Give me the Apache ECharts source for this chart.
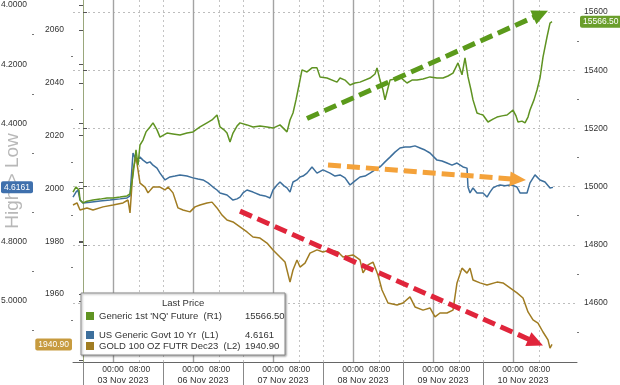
<!DOCTYPE html>
<html><head><meta charset="utf-8">
<script src="https://cdn.jsdelivr.net/npm/echarts@6/dist/echarts.min.js"></script>
<style>html,body{margin:0;padding:0;background:#fff}#c{width:620px;height:385px}</style>
</head><body><div id="c"></div>
<script>
// time is in hours from the start of the 03 Nov session (sessions skip the weekend)
const nqSeries = [[-3,14981],[-2.1,14999],[-1.2,14988],[-0.9,14954],[0,14944],[1.2,14950],[3,14954],[5.1,14957],[7.2,14961],[9,14961],[11.1,14964],[13.2,14968],[14.1,14975],[15,15040],[15.9,15126],[16.5,15074],[17.1,15143],[18,15160],[18.9,15188],[20.1,15205],[21,15219],[22.2,15195],[23.1,15170],[25.2,15184],[27,15181],[29.1,15177],[31.2,15184],[33,15188],[35.1,15205],[37.2,15219],[38.7,15229],[40.2,15246],[41.1,15205],[42.3,15195],[43.2,15184],[44.1,15153],[45,15184],[46.2,15208],[47.1,15219],[49.2,15212],[51,15205],[53.1,15208],[55.2,15205],[57,15201],[59.1,15212],[61.2,15188],[62.1,15229],[63,15253],[63.9,15298],[64.5,15332],[65.1,15366],[65.7,15401],[67.2,15394],[68.7,15408],[70.2,15408],[71.1,15377],[73.2,15373],[76.2,15359],[77.1,15373],[78.6,15366],[80.1,15349],[81.6,15356],[83.1,15359],[86.1,15373],[87.6,15387],[88.2,15408],[89.1,15366],[90,15332],[90.6,15298],[91.5,15339],[92.1,15366],[93.6,15370],[95.1,15377],[97.2,15356],[98.7,15366],[100.2,15366],[102,15370],[104.1,15377],[106.2,15373],[108,15373],[109.5,15380],[111,15390],[112.5,15425],[113.7,15384],[114.6,15442],[115.5,15377],[116.4,15332],[117,15298],[118.2,15253],[119.1,15249],[120,15246],[121.5,15222],[123,15232],[124.2,15239],[125.7,15243],[127.2,15246],[129,15263],[129.9,15243],[130.5,15222],[131.7,15225],[132.6,15219],[133.5,15239],[134.1,15263],[135.3,15298],[136.2,15332],[137.1,15373],[138,15445],[139.2,15514],[140.1,15562],[140.7,15566.5]];
const yieldSeries = [[-3,4.649],[-2.1,4.632],[-1.5,4.625],[-0.9,4.659],[0,4.669],[2.1,4.666],[5.1,4.662],[8.1,4.659],[11.1,4.655],[13.2,4.652],[14.1,4.645],[15,4.500],[15.9,4.524],[17.1,4.514],[18,4.524],[19.2,4.534],[20.1,4.530],[21,4.541],[22.2,4.551],[23.1,4.568],[24.6,4.591],[26.1,4.581],[27.6,4.578],[29.1,4.574],[31.2,4.578],[33,4.584],[34.5,4.588],[36,4.591],[37.5,4.601],[39,4.615],[40.2,4.625],[41.1,4.635],[43.2,4.642],[45,4.659],[46.2,4.655],[47.1,4.649],[48,4.635],[49.2,4.625],[51,4.632],[53.1,4.642],[54.6,4.645],[56.1,4.652],[57,4.625],[58.2,4.608],[59.1,4.598],[60.3,4.611],[61.2,4.618],[62.1,4.632],[63,4.598],[64.2,4.591],[65.1,4.581],[66,4.578],[67.2,4.568],[68.7,4.547],[70.2,4.568],[72,4.557],[74.1,4.568],[75.6,4.578],[77.1,4.574],[78.6,4.584],[80.1,4.608],[81.6,4.594],[83.1,4.581],[84.6,4.578],[86.1,4.568],[87.6,4.557],[89.1,4.547],[90.6,4.530],[92.1,4.514],[93.6,4.497],[95.1,4.483],[96.6,4.480],[98.1,4.480],[99.6,4.476],[101.1,4.483],[102.6,4.490],[104.1,4.500],[106.2,4.524],[107.7,4.527],[109.2,4.534],[110.7,4.541],[112.2,4.534],[114,4.547],[115.2,4.551],[115.5,4.615],[116.1,4.635],[117,4.618],[118.2,4.635],[120,4.635],[121.2,4.649],[122.1,4.632],[123,4.618],[124.2,4.611],[125.1,4.608],[126.6,4.611],[128.1,4.608],[129.3,4.611],[130.2,4.615],[131.1,4.635],[132,4.635],[133.2,4.635],[134.1,4.601],[135.6,4.574],[137.1,4.591],[138.6,4.598],[140.1,4.618],[141,4.6161]];
const goldSeries = [[-3,1993.7],[-1.8,1994.5],[-0.9,1991.8],[1.2,1992.6],[3,1991.8],[6,1993.0],[9,1993.7],[12,1994.5],[13.5,1995.6],[14.1,1990.7],[15,2007.0],[15.9,2011.9],[16.5,2007.0],[17.1,2002.0],[18.6,2000.5],[19.5,1998.3],[21,2000.5],[23.1,2000.5],[24.6,1999.4],[25.5,2000.5],[27,1998.3],[28.5,1992.6],[30,1991.8],[32.1,1991.1],[33.6,1993.0],[35.1,1993.7],[37.2,1994.5],[38.7,1994.8],[40.2,1992.6],[41.7,1989.9],[43.2,1988.0],[45,1987.3],[47.1,1985.4],[49.2,1983.5],[51,1981.6],[53.1,1981.2],[55.2,1979.3],[57,1976.7],[59.1,1974.0],[60.6,1972.1],[62.1,1964.5],[63,1969.1],[64.2,1972.9],[65.1,1970.2],[66.6,1971.7],[68.1,1975.5],[70.2,1976.7],[72,1975.9],[74.1,1976.7],[76.5,1975.9],[78,1974.0],[81,1974.8],[83.1,1972.9],[84,1968.0],[85.5,1971.0],[87,1972.1],[88.5,1967.2],[89.7,1961.5],[91.5,1956.6],[94.2,1955.8],[96,1956.6],[98.1,1958.9],[99.6,1955.1],[102,1953.9],[104.1,1954.7],[105.6,1951.3],[107.1,1952.8],[109.2,1952.8],[111,1953.9],[112.2,1964.2],[113.7,1969.8],[115.2,1967.9],[116.1,1969.8],[117,1965.3],[119.1,1964.2],[121.2,1963.4],[124.2,1964.5],[126,1964.2],[128.1,1962.3],[130.2,1960.4],[132,1958.5],[133.5,1953.2],[135,1950.2],[136.5,1949.0],[138,1945.6],[139.5,1942.6],[140.1,1939.5],[140.7,1940.9]];

const nqName = "Generic 1st 'NQ' Future";
const yieldName = 'US Generic Govt 10 Yr';
const goldName = 'GOLD 100 OZ FUTR Dec23';
const lastNQ = 15566.50, lastYield = 4.6161, lastGold = 1940.90;

const dayLabels = ['03 Nov 2023','06 Nov 2023','07 Nov 2023','08 Nov 2023','09 Nov 2023','10 Nov 2023'];
const dayStartHours = [0,24,48,72,96,120];
const dayCenterHours = [12,36,60,84,108,132];
const midnightHours = [9,33,57,81,105,129];
const eightHours = [17,41,65,89,113,137];

const nqTicks = [14600,14800,15000,15200,15400,15600];
const nqMinor = [14500,14700,14900,15100,15300,15500];
const yieldTicks = [4.0,4.2,4.4,4.8,5.0]; // 4.6 label is covered by the last-price tag
const yieldTickMarks = [4.0,4.2,4.4,4.6,4.8,5.0,5.2];
const yieldMinor = [4.1,4.3,4.5,4.7,4.9,5.1];
const goldTicks = [1960,1980,2000,2020,2040,2060];
const goldMinor = [1950,1970,1990,2010,2030,2050];

// trend arrows (start, end) in data units
const nqTrend = [[67.2,15234],[137.3,15593]];
const yieldTrend = [[73.5,4.5405],[130.5,4.5895]];
const goldTrend = [[47.1,1991.4],[135.8,1941.7]];

const xMin = -3, xMax = 148.2;
const nqMin = 14397.3, nqMax = 15641.2;
const yieldMin = 3.9831, yieldMax = 5.2061;
const goldMin = 1934.24, goldMax = 2071.36;

const FONT = 'Liberation Sans';
const TXT = '#333';
const C_NQ = '#5f9322', C_Y = '#3d6f9c', C_G = '#a07c22';

function yAx(g, extra) {
  return Object.assign({
    type: 'value', min: g.min, max: g.max, position: g.pos, offset: g.off, inverse: !!g.inv,
    splitLine: {show: false}, axisLine: {show: false}, axisTick: {show: false}, axisLabel: {show: false}
  }, extra);
}
const gY = {min: yieldMin, max: yieldMax, pos: 'left', off: 39, inv: true};
const gG = {min: goldMin, max: goldMax, pos: 'left', off: 0};
const gN = {min: nqMin, max: nqMax, pos: 'right', off: 0};
const lab = (o) => Object.assign({show: true, fontSize: 8.5, color: TXT, fontFamily: FONT}, o);
const tag = (vals, fmt, bg, margin) => ({axisLabel: lab({customValues: vals, formatter: fmt, backgroundColor: bg, color: '#fff', padding: [2, 3, 1, 3], borderRadius: 2, margin: margin})});

const yAxes = [
  yAx(gY, {axisLine: {show: true, lineStyle: {color: '#8fa2b6'}}, axisTick: {show: true, length: 4, customValues: yieldTickMarks, lineStyle: {color: '#555'}},
    axisLabel: lab({customValues: yieldTicks, formatter: v => v.toFixed(4), margin: 7}),
    name: 'High > Low', nameLocation: 'middle', nameGap: 12, nameRotate: 90, nameMoveOverlap: false,
    nameTextStyle: {fontSize: 19, color: '#b8b8b8', fontFamily: FONT}}),
  yAx(gG, {axisLine: {show: true, lineStyle: {color: '#bba566'}}, axisTick: {show: true, length: 4, customValues: goldTicks, lineStyle: {color: '#555'}},
    axisLabel: lab({customValues: goldTicks, formatter: v => String(v), margin: 9})}),
  yAx(gN, {axisLine: {show: true, lineStyle: {color: '#9aa77c'}}, axisTick: {show: true, length: 4, customValues: nqTicks, lineStyle: {color: '#555'}},
    axisLabel: lab({customValues: nqTicks, formatter: v => String(v), margin: 7}),
    splitLine: {show: true, lineStyle: {type: [2, 3], color: '#bdbdbd'}}}),
  yAx(gY, {axisTick: {show: true, length: 2, customValues: yieldMinor, lineStyle: {color: '#777'}}}),
  yAx(gG, {axisTick: {show: true, length: 2, customValues: goldMinor, lineStyle: {color: '#777'}}}),
  yAx(gN, {axisTick: {show: true, length: 2, customValues: nqMinor, lineStyle: {color: '#777'}}}),
  yAx(gY, tag([lastYield], v => v.toFixed(4), '#3f70ad', 1)),
  yAx(gG, tag([lastGold], v => v.toFixed(2), '#c79b3f', 1)),
  yAx(gN, tag([lastNQ], v => v.toFixed(2), '#6a9e2b', 3))
];

function xAx(extra) {
  return Object.assign({type: 'value', min: xMin, max: xMax, position: 'bottom',
    axisLine: {show: false}, axisTick: {show: false}, axisLabel: {show: false}, splitLine: {show: false}}, extra);
}
const xAxes = [
  xAx({axisLine: {show: true, lineStyle: {color: '#666'}},
    axisTick: {show: true, customValues: dayStartHours, length: 23, lineStyle: {color: '#888'}},
    axisLabel: lab({customValues: midnightHours.concat(eightHours).sort((a, b) => a - b),
      formatter: v => (midnightHours.indexOf(v) >= 0 ? '00:00' : '08:00'), margin: 3}),
    splitLine: {show: true, lineStyle: {type: [2, 3], color: '#c4c4c4'}}}),
  xAx({axisTick: {show: false, customValues: midnightHours},
    splitLine: {show: true, lineStyle: {color: '#a3a3a3', width: 1.4}},
    axisLabel: lab({customValues: dayCenterHours, formatter: v => dayLabels[dayCenterHours.indexOf(v)], margin: 14, fontSize: 9})}),
  xAx({axisTick: {show: false, customValues: eightHours},
    splitLine: {show: true, lineStyle: {type: [2, 3], color: '#c4c4c4'}}})
];

function arrow(pts, color) {
  return {silent: true, animation: false, symbol: ['none', 'triangle'], symbolSize: [15, 16],
    label: {show: false}, lineStyle: {color: color, width: 5, type: [13, 6], opacity: 1},
    itemStyle: {color: color}, emphasis: {disabled: true},
    data: [[{coord: pts[0]}, {coord: pts[1]}]]};
}

const legendInfo = {};
legendInfo[nqName] = ['(R1)', lastNQ.toFixed(2)];
legendInfo[yieldName] = ['(L1)', lastYield.toFixed(4)];
legendInfo[goldName] = ['(L2)', lastGold.toFixed(2)];
const legendBase = {orient: 'vertical', left: 86, padding: 0, itemGap: 0, itemWidth: 8, itemHeight: 8, icon: 'rect',
  selectedMode: false, z: 12,
  formatter: n => '{n|' + n + '  ' + legendInfo[n][0] + '}{v|' + legendInfo[n][1] + '}',
  textStyle: {color: TXT, fontFamily: FONT, fontSize: 9.5, lineHeight: 11,
    rich: {n: {width: 146, fontSize: 9.5, fontFamily: FONT, color: TXT}, v: {fontSize: 9.5, fontFamily: FONT, color: TXT}}}};

const option = {
  animation: false,
  backgroundColor: '#fff',
  grid: {left: 73, right: 43, top: 0, bottom: 23, containLabel: false, outerBoundsMode: 'none'},
  title: {text: 'Last Price', left: 162, top: 298, z: 12, padding: 0,
    textStyle: {fontSize: 9.5, fontWeight: 'normal', color: TXT, fontFamily: FONT}},
  graphic: {elements: [{type: 'rect', z: 5, shape: {x: 81, y: 293, width: 204, height: 62},
    style: {fill: '#fff', stroke: '#8c8c8c', lineWidth: 1, shadowBlur: 2, shadowColor: 'rgba(0,0,0,0.35)', shadowOffsetX: 1, shadowOffsetY: 1}}]},
  legend: [
    Object.assign({}, legendBase, {top: 310.5, data: [nqName]}),
    Object.assign({}, legendBase, {top: 329.5, data: [yieldName, goldName]})
  ],
  xAxis: xAxes,
  yAxis: yAxes,
  series: [
    {type: 'line', name: yieldName, xAxisIndex: 0, yAxisIndex: 0, data: yieldSeries, showSymbol: false, z: 3,
      lineStyle: {color: C_Y, width: 1.5}, itemStyle: {color: C_Y}, markLine: arrow(yieldTrend, '#f4a23a')},
    {type: 'line', name: goldName, xAxisIndex: 0, yAxisIndex: 1, data: goldSeries, showSymbol: false, z: 3,
      lineStyle: {color: C_G, width: 1.5}, itemStyle: {color: C_G}, markLine: arrow(goldTrend, '#e0253b')},
    {type: 'line', name: nqName, xAxisIndex: 0, yAxisIndex: 2, data: nqSeries, showSymbol: false, z: 4,
      lineStyle: {color: C_NQ, width: 1.5}, itemStyle: {color: C_NQ}, markLine: arrow(nqTrend, '#5b9a1b')}
  ]
};
echarts.init(document.getElementById('c')).setOption(option);
</script>
</body></html>
